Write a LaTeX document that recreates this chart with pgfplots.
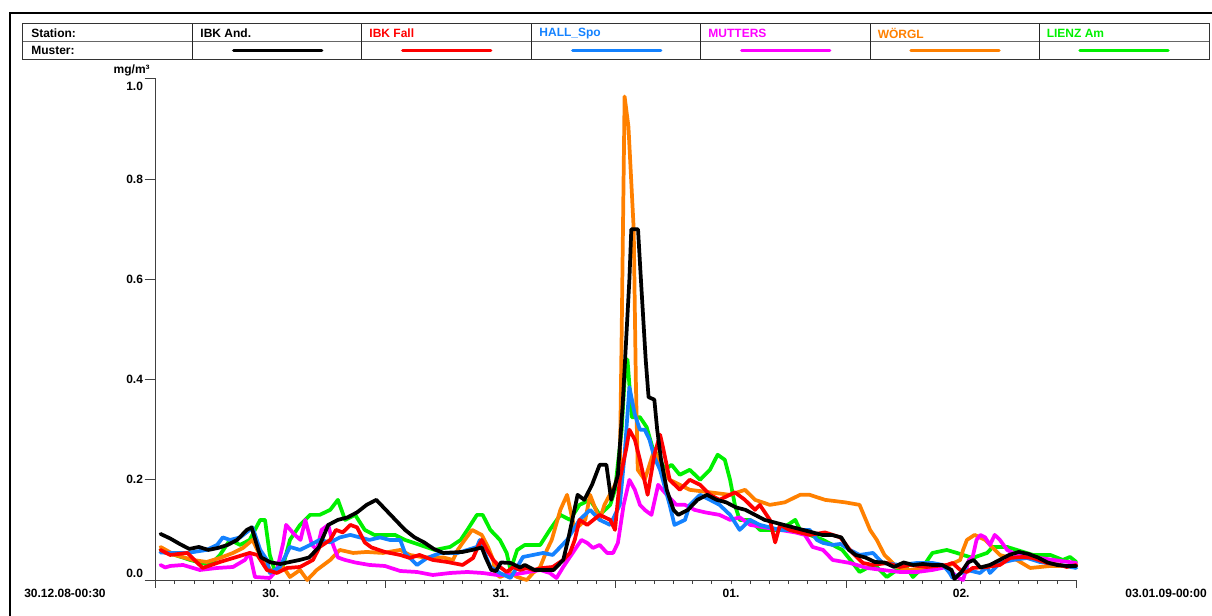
\documentclass[border=0pt]{standalone}
\usepackage{pgfplots}
\pgfplotsset{compat=1.18}
\usepackage{fontspec}
\setmainfont{Liberation Sans}
\definecolor{cblue}{RGB}{20,130,255}
\definecolor{corange}{RGB}{255,128,0}
\definecolor{cgreen}{RGB}{0,240,0}
\definecolor{cmag}{RGB}{255,0,255}
\definecolor{cred}{RGB}{255,0,0}
\begin{document}
\begin{tikzpicture}[font=\fontsize{9}{10.8}\selectfont\bfseries]
\begin{scope}[x=0.75pt,y=0.75pt]
\path[use as bounding box] (0,0) rectangle (1212,615);
\draw[line width=1.5pt] (10,-5) -- (10,602.3) -- (1220,602.3);
\draw[black!80, line width=0.75pt] (22.7,591) rectangle (1209,555.7);
\draw[black!60, line width=1.2pt] (22.7,573.3) -- (1209,573.3);
\foreach \x in {192.7,361.7,531.7,700.7,870,1039} \draw[black!85,line width=0.75pt] (\x,591) -- (\x,555.7);
\node[anchor=west,inner sep=0pt] at (31,581.5) {Station:};
\node[anchor=west,inner sep=0pt] at (31,564.5) {Muster:};
\node[anchor=west,inner sep=0pt,text=black] at (200.2,581.5) {IBK And.};
\node[anchor=west,inner sep=0pt,text=cred] at (369.2,581.5) {IBK Fall};
\node[anchor=west,inner sep=0pt,text=cblue] at (539.2,581.5) {HALL\_Spo};
\node[anchor=west,inner sep=0pt,text=cmag] at (708.2,581.5) {MUTTERS};
\node[anchor=west,inner sep=0pt,text=corange] at (877.5,581.5) {WÖRGL};
\node[anchor=west,inner sep=0pt,text=cgreen] at (1046.5,581.5) {LIENZ Am};
\foreach \x/\c in {192.7/black,361.7/cred,531.7/cblue,700.7/cmag,870/corange,1039/cgreen}
  \draw[\c,line width=2.6pt,line cap=round] (\x+41,564.3) -- (\x+129,564.3);
\node[anchor=east,inner sep=0pt] at (150,545) {mg/m³};
\node[anchor=west,inner sep=0pt] at (24,22) {30.12.08-00:30};
\node[anchor=east,inner sep=0pt] at (1207,22) {03.01.09-00:00};
\end{scope}
\begin{axis}[
 at={(116.775pt,26.25pt)}, anchor=south west,
 scale only axis, width=690.4pt, height=375.75pt,
 xmin=0, xmax=96, ymin=0, ymax=1,
 axis x line*=bottom, axis y line*=left,
 axis line style={black!75, line width=0.75pt},
 clip=false,
 xtick={0,24,48,72,96}, xticklabels={},
 minor xtick={2,4,...,94},
 extra x ticks={12,36,60,84},
 extra x tick labels={30.,31.,01.,02.},
 extra x tick style={major tick length=0pt, xticklabel style={yshift=-3pt}},
 ytick={0,0.2,0.4,0.6,0.8,1.0},
 yticklabels={{\raisebox{2pt}[0pt][0pt]{0.0}},0.2,0.4,0.6,0.8,{\raisebox{-8.5pt}[0pt][0pt]{1.0}}},
 ytick style={/pgfplots/major tick length=8.25pt},
 tick align=outside,
 major tick length=6pt, minor tick length=3pt,
 tick style={black!75, line width=0.75pt},
 tick label style={font=\fontsize{9}{10.8}\selectfont\bfseries},
 /pgf/number format/assume math mode=true,
 every axis plot/.append style={line width=2.8pt, line join=round, line cap=round, mark=none},
]
% LIENZ Am
\addplot[cgreen] coordinates {(0.5,0.06)(2.0,0.05)(3.6,0.04)(4.6,0.035)(5.66,0.03)(6.7,0.05)(7.75,0.08)(8.8,0.07)(9.8,0.08)(10.9,0.12)(11.4,0.12)(11.9,0.05)(12.4,0.02)(13.3,0.03)(14.0,0.08)(15.05,0.11)(16.1,0.13)(17.1,0.13)(18.2,0.14)(19.0,0.16)(19.75,0.12)(20.8,0.13)(21.8,0.1)(22.8,0.09)(23.9,0.09)(24.95,0.09)(26.0,0.08)(27.56,0.07)(29.1,0.06)(30.7,0.066)(31.8,0.08)(32.5,0.1)(33.5,0.13)(34.1,0.13)(34.9,0.1)(35.9,0.08)(36.6,0.054)(37.0,0.02)(37.7,0.06)(38.5,0.07)(40.1,0.07)(41.1,0.1)(42.2,0.13)(43.2,0.12)(44.2,0.15)(45.3,0.16)(46.3,0.13)(47.4,0.15)(47.9,0.18)(48.6,0.3)(48.9,0.4)(49.2,0.44)(49.65,0.325)(50.5,0.325)(51.2,0.305)(51.8,0.265)(52.6,0.24)(53.1,0.22)(53.8,0.23)(54.65,0.21)(55.7,0.22)(56.77,0.2)(57.8,0.22)(58.6,0.25)(59.35,0.24)(59.9,0.2)(60.4,0.15)(60.9,0.12)(61.97,0.12)(63.0,0.1)(65.1,0.1)(66.7,0.12)(67.2,0.1)(68.2,0.09)(69.6,0.08)(70.6,0.07)(71.6,0.06)(72.7,0.034)(73.4,0.016)(74.2,0.024)(75.2,0.026)(76.25,0.006)(77.3,0.02)(78.34,0.024)(78.97,0.006)(80.0,0.026)(81.0,0.054)(82.5,0.06)(83.56,0.054)(84.2,0.05)(85.2,0.044)(86.7,0.054)(87.3,0.066)(88.8,0.066)(89.8,0.06)(91.5,0.05)(93.3,0.05)(94.6,0.04)(95.35,0.046)(96.0,0.036)};
% WOERGL
\addplot[corange] coordinates {(0.5,0.066)(2.0,0.05)(3.9,0.04)(5.3,0.036)(6.7,0.044)(8.06,0.054)(9.1,0.064)(10.1,0.08)(10.6,0.06)(11.6,0.03)(12.2,0.014)(13.3,0.026)(14.0,0.006)(15.05,0.02)(15.8,0.0)(16.8,0.02)(18.2,0.04)(19.2,0.06)(20.6,0.054)(22.0,0.056)(23.7,0.054)(25.5,0.06)(26.5,0.05)(28.0,0.045)(30.0,0.045)(31.0,0.04)(31.5,0.06)(32.0,0.074)(33.0,0.1)(34.0,0.09)(34.65,0.066)(35.2,0.04)(35.4,0.014)(35.9,0.006)(37.0,0.014)(37.7,0.006)(38.7,0.0)(39.35,0.014)(40.1,0.026)(40.8,0.06)(41.3,0.08)(42.2,0.14)(42.9,0.17)(43.7,0.1)(44.8,0.12)(45.3,0.17)(46.3,0.12)(46.8,0.15)(47.9,0.19)(48.4,0.22)(48.6,0.5)(48.9,0.965)(49.3,0.905)(49.85,0.7)(50.07,0.4)(50.27,0.22)(51.0,0.2)(52.0,0.26)(52.9,0.22)(53.6,0.2)(55.7,0.18)(57.8,0.175)(59.9,0.17)(61.45,0.18)(62.5,0.16)(64.05,0.15)(65.6,0.155)(67.2,0.17)(68.2,0.17)(69.8,0.16)(71.9,0.155)(73.4,0.15)(74.5,0.1)(75.2,0.08)(76.0,0.05)(77.3,0.026)(78.65,0.02)(80.7,0.025)(82.8,0.03)(83.9,0.04)(84.2,0.06)(84.6,0.08)(85.4,0.09)(86.5,0.08)(88.04,0.05)(89.8,0.04)(91.2,0.024)(93.3,0.028)(96.0,0.028)};
% MUTTERS
\addplot[cmag] coordinates {(0.5,0.03)(1.0,0.025)(1.5,0.028)(2.85,0.03)(4.6,0.02)(6.4,0.024)(8.06,0.026)(9.3,0.04)(9.8,0.054)(10.35,0.006)(11.9,0.004)(12.65,0.02)(13.3,0.074)(13.6,0.11)(14.5,0.09)(15.1,0.08)(15.6,0.12)(16.3,0.07)(16.8,0.06)(17.3,0.1)(18.0,0.11)(18.5,0.07)(19.0,0.045)(19.75,0.04)(20.8,0.035)(22.3,0.03)(23.9,0.028)(25.5,0.018)(27.25,0.016)(28.9,0.01)(30.7,0.014)(32.5,0.016)(34.1,0.014)(35.6,0.01)(37.0,0.01)(38.3,0.014)(40.1,0.02)(41.1,0.014)(41.8,0.004)(42.5,0.026)(43.2,0.046)(43.9,0.066)(44.4,0.08)(45.0,0.074)(45.6,0.064)(46.3,0.07)(47.07,0.054)(47.7,0.054)(48.2,0.074)(48.8,0.15)(49.4,0.2)(49.97,0.18)(50.5,0.15)(51.0,0.14)(51.7,0.13)(52.4,0.19)(53.3,0.17)(54.3,0.15)(55.2,0.15)(56.2,0.14)(57.3,0.135)(58.8,0.13)(59.9,0.12)(60.9,0.125)(62.0,0.11)(63.5,0.105)(65.1,0.1)(66.7,0.095)(67.7,0.09)(68.5,0.066)(69.6,0.06)(70.6,0.04)(72.4,0.034)(74.2,0.024)(75.8,0.02)(77.6,0.016)(79.4,0.016)(81.0,0.02)(82.5,0.026)(83.56,0.006)(84.2,0.0)(84.8,0.04)(85.2,0.046)(85.6,0.08)(86.0,0.09)(86.5,0.085)(87.0,0.07)(87.5,0.09)(88.04,0.08)(88.8,0.06)(89.8,0.05)(91.5,0.046)(93.6,0.04)(96.0,0.034)};
% HALL_Spo
\addplot[cblue] coordinates {(0.5,0.055)(1.5,0.054)(3.3,0.054)(5.3,0.06)(6.4,0.07)(7.0,0.085)(7.75,0.08)(8.8,0.085)(9.8,0.1)(10.1,0.105)(10.9,0.06)(11.6,0.04)(11.9,0.014)(12.96,0.026)(14.0,0.066)(15.05,0.06)(16.1,0.07)(17.1,0.08)(18.2,0.075)(19.2,0.085)(20.3,0.09)(21.3,0.085)(22.3,0.08)(23.4,0.085)(24.4,0.08)(25.5,0.08)(26.0,0.054)(27.25,0.03)(28.3,0.044)(29.7,0.054)(31.5,0.054)(33.5,0.066)(33.8,0.08)(34.3,0.054)(34.9,0.026)(35.9,0.014)(37.0,0.004)(37.7,0.026)(38.3,0.046)(39.35,0.05)(40.4,0.054)(41.4,0.05)(42.2,0.066)(42.9,0.08)(44.2,0.12)(45.3,0.14)(46.3,0.12)(47.4,0.11)(48.4,0.15)(48.9,0.25)(49.4,0.385)(49.97,0.33)(50.5,0.3)(51.0,0.3)(51.5,0.28)(52.0,0.245)(52.6,0.22)(53.6,0.15)(54.1,0.11)(55.2,0.12)(55.7,0.15)(56.77,0.17)(57.8,0.16)(58.8,0.15)(59.9,0.13)(60.9,0.1)(61.97,0.12)(63.0,0.11)(65.1,0.1)(67.2,0.1)(68.2,0.1)(68.95,0.08)(69.6,0.074)(70.6,0.07)(71.4,0.072)(72.4,0.06)(73.4,0.05)(74.8,0.054)(75.8,0.034)(77.6,0.03)(79.4,0.034)(81.0,0.034)(82.1,0.03)(82.8,0.014)(83.1,0.004)(84.6,0.02)(85.96,0.014)(86.7,0.026)(87.0,0.014)(88.04,0.034)(89.4,0.04)(90.86,0.044)(92.2,0.036)(94.3,0.03)(96.0,0.024)};
% IBK Fall
\addplot[cred] coordinates {(0.5,0.06)(1.5,0.05)(3.3,0.054)(4.9,0.024)(6.7,0.036)(8.1,0.044)(9.8,0.054)(10.6,0.05)(11.6,0.02)(12.65,0.014)(13.7,0.024)(15.05,0.026)(16.4,0.04)(17.1,0.066)(18.2,0.08)(18.8,0.1)(19.5,0.095)(20.3,0.11)(21.0,0.105)(21.8,0.075)(22.5,0.065)(23.9,0.056)(25.5,0.05)(26.5,0.044)(27.5,0.05)(28.9,0.04)(30.4,0.036)(32.0,0.03)(33.1,0.044)(33.6,0.066)(34.0,0.08)(34.55,0.06)(35.2,0.04)(35.9,0.026)(36.6,0.016)(37.3,0.026)(38.0,0.02)(38.7,0.024)(39.35,0.02)(40.4,0.024)(41.4,0.026)(42.5,0.04)(43.2,0.054)(43.7,0.08)(44.2,0.12)(45.0,0.11)(46.3,0.13)(47.4,0.12)(47.9,0.1)(48.4,0.2)(49.1,0.265)(49.4,0.3)(49.97,0.28)(50.5,0.24)(51.3,0.17)(52.0,0.25)(52.6,0.29)(52.9,0.265)(53.6,0.2)(54.65,0.18)(55.7,0.2)(56.77,0.19)(57.8,0.17)(58.8,0.16)(60.4,0.175)(61.45,0.16)(62.5,0.14)(63.0,0.15)(64.05,0.12)(64.6,0.075)(65.1,0.11)(66.1,0.1)(68.2,0.09)(69.8,0.095)(71.4,0.085)(72.4,0.06)(73.1,0.046)(73.75,0.034)(74.8,0.03)(76.25,0.034)(77.6,0.026)(78.65,0.03)(80.4,0.026)(82.5,0.03)(83.1,0.034)(83.9,0.02)(84.6,0.016)(85.2,0.024)(86.7,0.026)(88.04,0.03)(89.1,0.044)(90.4,0.046)(91.5,0.044)(92.95,0.034)(94.3,0.03)(95.0,0.026)(96.0,0.03)};
% IBK And.
\addplot[black] coordinates {(0.5,0.092)(1.5,0.083)(2.5,0.072)(3.5,0.062)(4.5,0.066)(5.5,0.06)(6.5,0.064)(7.5,0.07)(8.5,0.08)(9.5,0.1)(10,0.105)(10.7,0.06)(11,0.045)(12,0.035)(13,0.032)(14,0.036)(15,0.04)(16,0.045)(17,0.065)(18,0.11)(19,0.12)(20,0.125)(21,0.135)(22,0.15)(23,0.16)(24,0.14)(25,0.12)(26,0.1)(27,0.085)(28,0.075)(29,0.062)(30,0.054)(31,0.055)(32,0.056)(33,0.06)(34,0.065)(34.4,0.045)(35,0.02)(35.5,0.018)(36,0.035)(37,0.034)(38,0.025)(38.5,0.03)(39.5,0.02)(40.5,0.02)(41.5,0.02)(42.5,0.04)(43,0.08)(44,0.17)(44.7,0.16)(45.5,0.19)(46.3,0.23)(47,0.23)(47.5,0.16)(48.2,0.21)(48.7,0.35)(49.4,0.6)(49.6,0.70)(50.3,0.70)(50.6,0.6)(51.1,0.44)(51.4,0.365)(52,0.36)(52.3,0.3)(52.7,0.24)(53.3,0.18)(54,0.14)(54.5,0.13)(55.5,0.14)(56.5,0.16)(57.5,0.17)(58.5,0.16)(59.5,0.155)(60.5,0.145)(61.5,0.14)(62.5,0.13)(63.5,0.12)(64.5,0.115)(65.5,0.11)(66.5,0.105)(67.5,0.1)(68.5,0.095)(69.5,0.09)(70.5,0.09)(71.5,0.085)(72.3,0.06)(73,0.05)(74,0.045)(75,0.036)(76,0.035)(77,0.026)(78,0.035)(79,0.03)(80,0.032)(81,0.03)(82,0.03)(83,0.02)(83.3,0.002)(84,0.015)(84.7,0.035)(85.3,0.04)(86,0.025)(87,0.03)(88,0.04)(89,0.05)(90,0.056)(91,0.052)(92,0.045)(93,0.035)(94,0.03)(95,0.028)(96,0.028)};
\end{axis}
\end{tikzpicture}
\end{document}
